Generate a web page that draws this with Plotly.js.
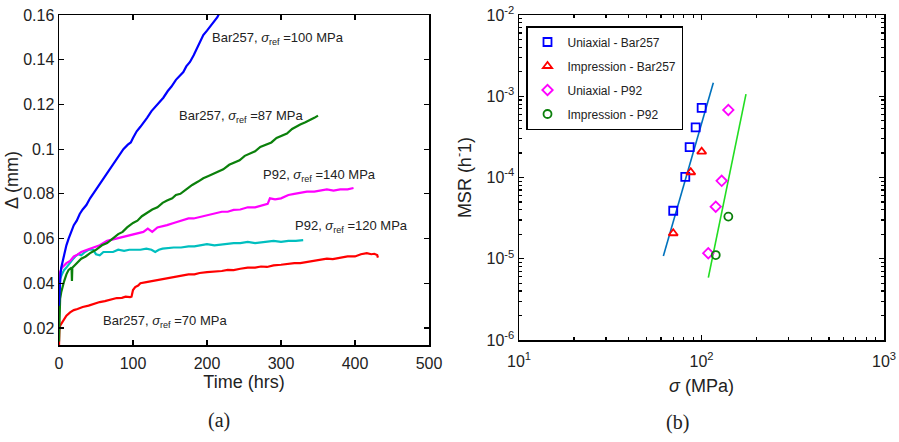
<!DOCTYPE html>
<html>
<head>
<meta charset="utf-8">
<script src="https://cdn.plot.ly/plotly-3.0.1.min.js"></script>
<style>html,body{margin:0;padding:0;background:#fff;}#chart{width:899px;height:442px;}</style>
</head>
<body>
<div id="chart"></div>
<script>
// ---- Panel (a): displacement vs time ----
const tBlue = [0,0.5,1,2,3,5,7,10,13,16,20,24,28,32,37,42,46,52,58,64,70,75,80,87,93,97,100,105,110,115,119,125,130,136,141,147,152,158,163,168,172,177,182,186,190,195,200,205,210,214,217];
const dBlue = [0.030,0.037,0.041,0.044,0.047,0.050,0.053,0.057,0.060,0.063,0.066,0.068,0.071,0.073,0.075,0.078,0.080,0.083,0.086,0.089,0.092,0.094,0.097,0.100,0.102,0.103,0.105,0.108,0.110,0.112,0.114,0.117,0.119,0.121,0.123,0.126,0.128,0.131,0.133,0.1345,0.137,0.139,0.142,0.145,0.148,0.151,0.153,0.155,0.157,0.159,0.161];

const tGreen = [0,0.3,0.8,1.5,3,5,7,10,13,17,17.5,18,21,24,30,36,42,50,58,65,72,80,86,92,100,106,112,119,126,133,140,146,153,158,164,172,180,188,195,202,208,215,222,230,237,244,251,258,265,272,280,287,294,301,308,315,320,326,333,340,345,350];
const dGreen = [0.014,0.022,0.030,0.033,0.036,0.039,0.041,0.044,0.046,0.047,0.041,0.047,0.048,0.049,0.051,0.052,0.0535,0.055,0.057,0.058,0.060,0.062,0.063,0.065,0.067,0.068,0.070,0.0714,0.073,0.074,0.076,0.077,0.078,0.0795,0.080,0.082,0.084,0.0855,0.087,0.088,0.089,0.090,0.091,0.093,0.094,0.095,0.097,0.098,0.099,0.101,0.102,0.103,0.105,0.106,0.107,0.109,0.110,0.111,0.112,0.113,0.114,0.115];

const tMagenta = [0,0.5,1.5,4,7,10,15,20,24,30,38,46,55,65,78,88,100,107,114,120,126,133,140,146,155,165,175,182,190,200,210,220,228,236,245,255,265,275,282,285,292,300,310,318,326,335,345,355,362,371,380,390,398];
const dMagenta = [0.038,0.042,0.045,0.047,0.048,0.049,0.050,0.052,0.0526,0.054,0.055,0.056,0.057,0.059,0.060,0.061,0.062,0.0625,0.063,0.0645,0.063,0.065,0.0655,0.066,0.067,0.068,0.069,0.069,0.0696,0.0705,0.071,0.072,0.072,0.0728,0.073,0.074,0.074,0.075,0.0755,0.078,0.0775,0.078,0.0795,0.080,0.0805,0.081,0.081,0.0815,0.082,0.0815,0.082,0.082,0.0826];

const tCyan = [0,0.5,1.5,4,7,10,14,18,22,26,30,35,40,46,50,55,60,66,73,80,88,95,100,110,118,125,130,135,140,146,155,165,175,183,190,200,210,220,230,236,245,255,265,275,281,290,300,310,320,330];
const dCyan = [0.034,0.039,0.042,0.044,0.046,0.047,0.049,0.0505,0.052,0.053,0.0525,0.054,0.055,0.055,0.053,0.0525,0.054,0.054,0.054,0.055,0.0545,0.055,0.055,0.055,0.0555,0.055,0.054,0.055,0.0555,0.0557,0.056,0.056,0.0565,0.0565,0.057,0.0575,0.057,0.0575,0.058,0.058,0.058,0.0585,0.058,0.0585,0.0585,0.059,0.0585,0.059,0.059,0.0593];

const tRed = [0,0.2,0.5,1.5,4,7,10,15,20,25,32,40,48,55,62,68,74,78,85,90,96,98,100,103,107,110,118,126,134,140,146,155,165,175,183,190,200,210,220,228,236,245,255,265,273,281,290,300,310,318,326,335,345,355,362,370,380,390,400,408,416,422,426,430,431];
const dRed = [0.012,0.016,0.019,0.021,0.0225,0.024,0.0255,0.027,0.028,0.0285,0.0294,0.030,0.031,0.0316,0.032,0.0325,0.033,0.0334,0.0335,0.034,0.0338,0.034,0.037,0.0383,0.039,0.040,0.0405,0.041,0.0415,0.042,0.0423,0.043,0.0435,0.044,0.044,0.0446,0.045,0.0452,0.0455,0.046,0.0459,0.0465,0.047,0.047,0.0475,0.0473,0.048,0.0483,0.0487,0.049,0.049,0.0495,0.050,0.0505,0.051,0.0508,0.0515,0.052,0.052,0.053,0.0535,0.053,0.0532,0.0526,0.0515];

const curveLabels = [
  'Bar257, <i>σ</i><sub>ref</sub> =100 MPa',
  'Bar257, <i>σ</i><sub>ref</sub> =87 MPa',
  'P92, <i>σ</i><sub>ref</sub> =140 MPa',
  'P92, <i>σ</i><sub>ref</sub> =120 MPa',
  'Bar257, <i>σ</i><sub>ref</sub> =70 MPa'
];
const curveLabelT = [204, 159.5, 273, 316, 57];
const curveLabelD = [0.1493, 0.1144, 0.0884, 0.0656, 0.0231];

// ---- Panel (b): minimum strain rate vs stress ----
const uniBarStress = [100.2, 92.9, 86.1, 81.5, 70.0];
const uniBarMSR    = [7.2e-4, 4.15e-4, 2.37e-4, 1.02e-4, 3.9e-5];
const impBarStress = [100.2, 87.3, 70.0];
const impBarMSR    = [2.08e-4, 1.16e-4, 2.06e-5];
const uniP92Stress = [140.3, 129, 119.7, 108.9];
const uniP92MSR    = [6.78e-4, 9.1e-5, 4.37e-5, 1.17e-5];
const impP92Stress = [140.3, 119.7];
const impP92MSR    = [3.3e-5, 1.11e-5];
const fitBarStress = [61.8, 116.1];
const fitBarMSR    = [1.08e-5, 1.47e-3];
const fitP92Stress = [109, 175.3];
const fitP92MSR    = [5.85e-6, 1.06e-3];

const logXTicks = [10, 100, 1000];
const logXText  = ['10<sup>1</sup>', '10<sup>2</sup>', '10<sup>3</sup>'];
const logYTicks = [1e-6, 1e-5, 1e-4, 1e-3, 1e-2];
const logYText  = ['10<sup>-6</sup>', '10<sup>-5</sup>', '10<sup>-4</sup>', '10<sup>-3</sup>', '10<sup>-2</sup>'];

const FONT = 'Liberation Sans, Arial, sans-serif';

function line(t, d, color) {
  return {x: t, y: d, type: 'scatter', mode: 'lines', xaxis: 'x', yaxis: 'y',
          line: {color: color, width: 2.2}, showlegend: false, hoverinfo: 'skip'};
}
function pts(x, y, name, symbol, color, grp) {
  return {x: x, y: y, type: 'scatter', mode: 'markers', xaxis: 'x2', yaxis: 'y2', name: name,
          legendgroup: grp,
          marker: {symbol: symbol, size: 8, color: color, line: {color: color, width: 1.8}}};
}
function fit(x, y, color) {
  return {x: x, y: y, type: 'scatter', mode: 'lines', xaxis: 'x2', yaxis: 'y2',
          line: {color: color, width: 1.6}, showlegend: false, hoverinfo: 'skip'};
}

const data = [
  line(tRed, dRed, '#ff0000'),
  line(tCyan, dCyan, '#00bfbf'),
  line(tMagenta, dMagenta, '#ff00ff'),
  line(tGreen, dGreen, '#0b800b'),
  line(tBlue, dBlue, '#0000ff'),
  fit(fitBarStress, fitBarMSR, '#0072bd'),
  fit(fitP92Stress, fitP92MSR, '#22dd22'),
  pts(uniBarStress, uniBarMSR, 'Uniaxial - Bar257', 'square-open', '#0000ff', 'g1'),
  pts(impBarStress, impBarMSR, 'Impression - Bar257', 'triangle-up-open', '#ff0000', 'g2'),
  pts(uniP92Stress, uniP92MSR, 'Uniaxial - P92', 'diamond-open', '#ff00ff', 'g3'),
  pts(impP92Stress, impP92MSR, 'Impression - P92', 'circle-open', '#0b800b', 'g4')
];

const annotations = curveLabels.map((txt, i) => ({
  text: txt, x: curveLabelT[i], y: curveLabelD[i], xref: 'x', yref: 'y',
  xanchor: 'left', yanchor: 'middle', showarrow: false,
  font: {family: FONT, size: 13, color: '#222'}
}));
annotations.push({text: '(a)', x: 219/899, y: 1 - 420/442, xref: 'paper', yref: 'paper',
  xanchor: 'center', yanchor: 'middle', showarrow: false,
  font: {family: 'Liberation Serif, Times New Roman, serif', size: 20, color: '#222'}});
annotations.push({text: '(b)', x: 677/899, y: 1 - 422/442, xref: 'paper', yref: 'paper',
  xanchor: 'center', yanchor: 'middle', showarrow: false,
  font: {family: 'Liberation Serif, Times New Roman, serif', size: 20, color: '#222'}});

const axisCommon = {
  showline: true, linecolor: '#000', linewidth: 1.5, mirror: 'ticks',
  ticks: 'inside', ticklen: 5, tickwidth: 1.2, tickcolor: '#000',
  showgrid: false, zeroline: false, automargin: false,
  tickfont: {family: FONT, size: 16, color: '#222'}
};

const layout = {
  width: 899, height: 442,
  margin: {l: 0, r: 0, t: 0, b: 0},
  paper_bgcolor: '#fff', plot_bgcolor: '#fff',
  font: {family: FONT, color: '#222'},
  xaxis: Object.assign({}, axisCommon, {
    domain: [59/899, 429/899], anchor: 'y', range: [0, 500], dtick: 100, tick0: 0,
    ticklabelstandoff: 3,
    title: {text: 'Time (hrs)', font: {family: FONT, size: 18, color: '#222'}, standoff: 4}
  }),
  yaxis: Object.assign({}, axisCommon, {
    domain: [1 - 345/442, 1 - 15/442], anchor: 'x', range: [0.0124, 0.16], dtick: 0.02, tick0: 0,
    title: {text: 'Δ (mm)', font: {family: FONT, size: 18, color: '#222'}, standoff: 0}
  }),
  xaxis2: Object.assign({}, axisCommon, {
    domain: [519/899, 884/899], anchor: 'y2', type: 'log', range: [1, 3],
    tickmode: 'array', tickvals: logXTicks, ticktext: logXText, ticklabelstandoff: 6,
    minor: {ticks: 'inside', ticklen: 3, tickcolor: '#000', dtick: 'D1', showgrid: false},
    title: {text: '<i>σ</i> (MPa)', font: {family: FONT, size: 18, color: '#222'}, standoff: 10}
  }),
  yaxis2: Object.assign({}, axisCommon, {
    domain: [1 - 340/442, 1 - 15/442], anchor: 'x2', type: 'log', range: [-6, -2],
    tickmode: 'array', tickvals: logYTicks, ticktext: logYText,
    minor: {ticks: 'inside', ticklen: 3, tickcolor: '#000', dtick: 'D1', showgrid: false},
    title: {text: 'MSR (h<sup>-</sup>1)', font: {family: FONT, size: 18, color: '#222'}, standoff: 10}
  }),
  legend: {
    x: 526/899, y: 1 - 26/442, xanchor: 'left', yanchor: 'top',
    bgcolor: '#fff', bordercolor: '#000', borderwidth: 1.5,
    font: {family: FONT, size: 12, color: '#222'},
    traceorder: 'grouped', tracegroupgap: 5, itemwidth: 30
  },
  annotations: annotations
};

Plotly.newPlot('chart', data, layout, {displayModeBar: false, staticPlot: true});
</script>
</body>
</html>
